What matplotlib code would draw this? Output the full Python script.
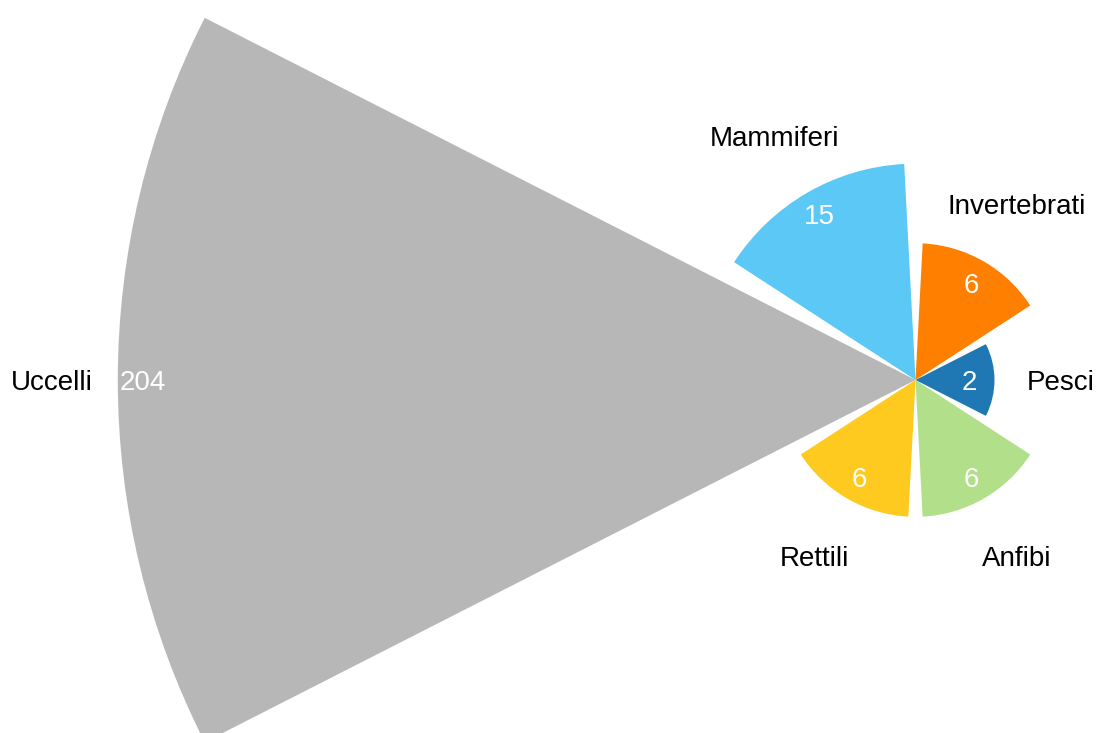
import numpy as np
import matplotlib.pyplot as plt

# Species counts per group
categorie = ['Pesci', 'Invertebrati', 'Mammiferi', 'Uccelli', 'Rettili', 'Anfibi']
valori = [2, 6, 15, 204, 6, 6]
colori = ['#1f78b4', '#ff7f00', '#5bc8f5', '#b7b7b7', '#ffca1f', '#b2df8a']

plt.rcParams['font.family'] = ['Liberation Sans', 'DejaVu Sans']

W, H = 1096, 733
fig = plt.figure(figsize=(W / 100, H / 100), dpi=100)

# polar axes placed so the centre sits right of the middle, big enough for the huge wedge
k = 55.85          # pixels per sqrt unit
rmax = 16
cx, cy = 915.5, H - 380
d = 2 * rmax * k
ax = fig.add_axes([(cx - d / 2) / W, (cy - d / 2) / H, d / W, d / H], projection='polar')
ax.set_ylim(0, rmax)
ax.set_axis_off()

n = len(categorie)
theta = np.deg2rad(np.arange(n) * 360 / n)
width = np.deg2rad(360 / n * 0.9)
raggi = np.sqrt(valori)  # area proportional to the count

ax.bar(theta, raggi, width=width, color=colori, linewidth=0, align='center')

off_in = 25 / k
off_out = 66 / k
for t, r, v, nome in zip(theta, raggi, valori, categorie):
    ax.text(t, r - off_in, str(v), ha='center', va='center_baseline', color='white', fontsize=20)
    ax.text(t, r + off_out, nome, ha='center', va='center_baseline', color='black', fontsize=20)

fig.savefig('out.png', dpi=100)
